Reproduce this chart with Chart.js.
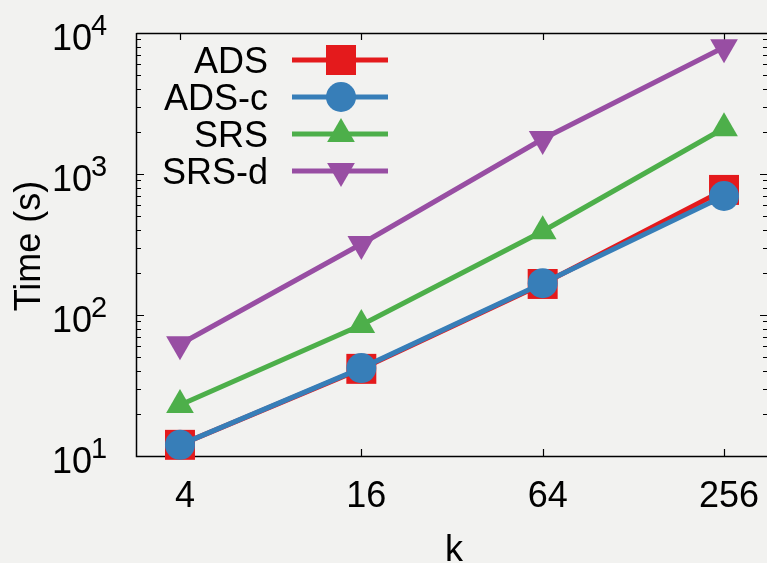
<!DOCTYPE html>
<html>
<head>
<meta charset="utf-8">
<script src="https://cdn.jsdelivr.net/npm/chart.js@4.4.0/dist/chart.umd.min.js"></script>
<style>
  html, body { margin: 0; padding: 0; background: #f2f2f0; overflow: hidden; }
  #wrap { width: 767px; height: 563px; position: relative; }
</style>
</head>
<body>
<div id="wrap"><canvas id="chart"></canvas></div>
<script>
// data (log scale)
const kLabels = ['4', '16', '64', '256'];
const adsTimes = [12, 41.5, 166, 771];
const adsCTimes = [12, 42, 168, 698];
const srsTimes = [23, 85, 393, 2110];
const srsDTimes = [62, 319, 1770, 7920];
const yTickValues = [10, 100, 1000, 10000];
const yTickExps = ['1', '2', '3', '4'];

const FONT = '"Liberation Sans", Arial, Helvetica, sans-serif';
const toPoints = (arr) => arr.map((v, i) => ({ x: i, y: v }));

const series = [
  { label: 'ADS', data: adsTimes, color: '#e41a1c', style: 'rect', radius: 21.2, rotation: 0 },
  { label: 'ADS-c', data: adsCTimes, color: '#377eb8', style: 'circle', radius: 15, rotation: 0 },
  { label: 'SRS', data: srsTimes, color: '#4daf4a', style: 'triangle', radius: 16, rotation: 0 },
  { label: 'SRS-d', data: srsDTimes, color: '#984ea3', style: 'triangle', radius: 16, rotation: 180 },
];

const gnuplotFrame = {
  id: 'gnuplotFrame',
  beforeDraw(chart) {
    const ctx = chart.ctx;
    ctx.save();
    ctx.fillStyle = '#f2f2f0';
    ctx.fillRect(0, 0, chart.width, chart.height);
    ctx.restore();
  },
  beforeDatasetsDraw(chart) {
    const { ctx, chartArea: a, scales: { x, y } } = chart;
    ctx.save();
    ctx.strokeStyle = '#000';
    ctx.lineWidth = 1.5;
    ctx.beginPath();
    ctx.moveTo(a.left - 0.5, a.top + 0.5);
    ctx.lineTo(a.right + 1, a.top + 0.5);
    ctx.moveTo(a.left - 0.5, a.top);
    ctx.lineTo(a.left - 0.5, a.bottom + 0.5);
    ctx.lineTo(a.right + 1, a.bottom + 0.5);
    ctx.stroke();

    ctx.lineWidth = 1.2;
    ctx.beginPath();
    // x major ticks, bottom and top
    kLabels.forEach((_, i) => {
      const px = Math.round(x.getPixelForValue(i)) + 0.5;
      ctx.moveTo(px, a.bottom); ctx.lineTo(px, a.bottom - 7);
      ctx.moveTo(px, a.top); ctx.lineTo(px, a.top + 7);
    });
    // y ticks, left and right
    yTickValues.forEach((v) => {
      const py = Math.round(y.getPixelForValue(v)) + 0.5;
      ctx.moveTo(a.left, py); ctx.lineTo(a.left + 7, py);
      ctx.moveTo(a.right, py); ctx.lineTo(a.right - 7, py);
    });
    yTickValues.slice(0, -1).forEach((d) => {
      for (let m = 2; m <= 9; m++) {
        const py = Math.round(y.getPixelForValue(m * d)) + 0.5;
        ctx.moveTo(a.left, py); ctx.lineTo(a.left + 4, py);
        ctx.moveTo(a.right, py); ctx.lineTo(a.right - 4, py);
      }
    });
    ctx.stroke();

    // tick labels
    ctx.fillStyle = '#000';
    ctx.font = '36px ' + FONT;
    ctx.textAlign = 'center';
    ctx.textBaseline = 'alphabetic';
    kLabels.forEach((lab, i) => {
      ctx.fillText(lab, x.getPixelForValue(i) + 5, 507);
    });
    yTickValues.forEach((v, i) => {
      const py = y.getPixelForValue(v);
      ctx.font = '36px ' + FONT;
      ctx.textAlign = 'right';
      ctx.fillText('10', 92, py + 17);
      ctx.font = '29px ' + FONT;
      ctx.textAlign = 'left';
      ctx.fillText(yTickExps[i], 91, py + 2);
    });

    // axis titles
    ctx.font = '36px ' + FONT;
    ctx.textAlign = 'center';
    ctx.fillText('k', 454, 561);
    ctx.save();
    ctx.translate(40, 246);
    ctx.rotate(-Math.PI / 2);
    ctx.fillText('Time (s)', 0, 0);
    ctx.restore();
    ctx.restore();
  },
  afterDraw(chart) {
    const ctx = chart.ctx;
    ctx.save();
    series.forEach((s, i) => {
      const cy = 60 + 37 * i;
      ctx.fillStyle = '#000';
      ctx.font = '36px ' + FONT;
      ctx.textAlign = 'right';
      ctx.textBaseline = 'alphabetic';
      ctx.fillText(s.label, 268, cy + 13);
      ctx.strokeStyle = s.color;
      ctx.lineWidth = 5;
      ctx.beginPath();
      ctx.moveTo(292, cy);
      ctx.lineTo(388, cy);
      ctx.stroke();
      ctx.fillStyle = s.color;
      Chart.helpers.drawPoint(ctx, {
        pointStyle: s.style, radius: s.radius, rotation: s.rotation, borderWidth: 0,
      }, 341, cy);
    });
    ctx.restore();
  },
};

new Chart(document.getElementById('chart'), {
  type: 'line',
  data: {
    datasets: series.map((s, i) => ({
      label: s.label,
      data: toPoints(s.data),
      borderColor: s.color,
      backgroundColor: s.color,
      borderWidth: 5,
      pointStyle: s.style,
      pointRadius: s.radius,
      pointRotation: s.rotation,
      pointBackgroundColor: s.color,
      pointBorderWidth: 0,
      tension: 0,
      clip: false,
      order: series.length - i,
    })),
  },
  options: {
    responsive: true,
    maintainAspectRatio: false,
    animation: false,
    events: [],
    layout: { autoPadding: false, padding: { top: 33, right: 0, left: 0, bottom: 0 } },
    plugins: { legend: { display: false }, tooltip: { enabled: false } },
    scales: {
      x: {
        type: 'linear',
        min: -0.237,
        max: 3.237,
        grid: { display: false },
        border: { display: false },
        ticks: { display: false },
        afterFit(scale) { scale.height = 107; },
      },
      y: {
        type: 'logarithmic',
        min: 10,
        max: 10000,
        grid: { display: false },
        border: { display: false },
        ticks: { display: false },
        afterFit(scale) { scale.width = 137; },
      },
    },
  },
  plugins: [gnuplotFrame],
});
</script>
</body>
</html>
